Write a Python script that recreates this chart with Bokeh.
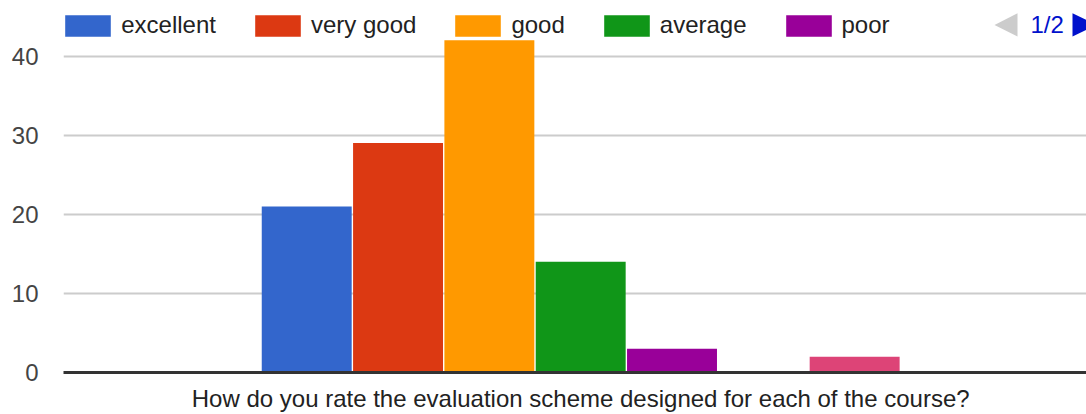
from bokeh.plotting import figure
from bokeh.models import (Range1d, FixedTicker, Legend, LegendItem, Label,
                          PolyAnnotation)
from bokeh.embed import file_html
from bokeh.resources import INLINE

# ---- data ----
category = "How do you rate the evaluation scheme designed for each of the course?"
series_names = ["excellent", "very good", "good", "average", "poor", "series 6", "series 7"]
series_values = [21, 29, 42, 14, 3, 0, 2]
series_colors = ["#3366cc", "#dc3912", "#ff9900", "#109618", "#990099", "#0099c6", "#dd4477"]
legend_page_1 = ["excellent", "very good", "good", "average", "poor"]
y_ticks = [0, 10, 20, 30, 40]
pager_text = "1/2"

FONT = "Liberation Sans"
GROUP_WIDTH = 0.618

n = len(series_names)
slot = GROUP_WIDTH / n

p = figure(width=1086, height=414, output_backend="svg", toolbar_location=None,
           x_range=Range1d(-0.5, 0.489), y_range=Range1d(0, 47.03),
           min_border_left=63, min_border_right=0, min_border_top=0,
           min_border_bottom=42)
p.outline_line_color = None
p.background_fill_color = "white"
p.border_fill_color = "white"

renderers = {}
for i, (name, val, col) in enumerate(zip(series_names, series_values, series_colors)):
    x = (i - (n - 1) / 2) * slot
    r = p.vbar(x=[x], top=[val], width=slot * 0.985, bottom=0,
               fill_color=col, line_color=None)
    renderers[name] = r

# axes
xa = p.xaxis[0]
xa.ticker = FixedTicker(ticks=[0])
xa.major_label_overrides = {0: category}
xa.axis_line_color = "#333333"
xa.axis_line_width = 3
xa.major_tick_line_color = None
xa.minor_tick_line_color = None
xa.major_tick_out = 0
xa.minor_tick_out = 0
xa.major_label_standoff = 12
xa.major_label_text_font = FONT
xa.major_label_text_font_size = "24px"
xa.major_label_text_color = "#222222"

ya = p.yaxis[0]
ya.ticker = FixedTicker(ticks=y_ticks)
ya.axis_line_color = None
ya.major_tick_line_color = None
ya.minor_tick_line_color = None
ya.major_tick_out = 0
ya.major_label_standoff = 25
ya.major_label_text_font = FONT
ya.major_label_text_font_size = "24px"
ya.major_label_text_color = "#444444"

p.xgrid.visible = False
p.ygrid.ticker = FixedTicker(ticks=y_ticks[1:])
p.ygrid.grid_line_color = "#cccccc"
p.ygrid.grid_line_width = 2

# legend (page 1 of 2)
legend = Legend(items=[LegendItem(label=nm, renderers=[renderers[nm]]) for nm in legend_page_1],
                orientation="horizontal", location=(-3.75, 333),
                glyph_width=57, glyph_height=27, label_standoff=5, spacing=33,
                padding=0, margin=0, border_line_color=None,
                background_fill_alpha=0,
                label_text_font=FONT, label_text_font_size="24px",
                label_text_color="#222222")
p.add_layout(legend, "center")

# pager
p.add_layout(Label(x=967, y=348, x_units="screen", y_units="screen", text=pager_text,
                   text_font=FONT, text_font_size="24px", text_color="#0011cc",
                   text_baseline="middle", text_align="left"))
p.add_layout(PolyAnnotation(xs=[931, 954, 954], ys=[347.5, 359.3, 336],
                            xs_units="screen", ys_units="screen",
                            fill_color="#cccccc", fill_alpha=1, line_color=None))
p.add_layout(PolyAnnotation(xs=[1009, 1009, 1033], ys=[359.3, 336, 347.5],
                            xs_units="screen", ys_units="screen",
                            fill_color="#0011cc", fill_alpha=1, line_color=None))

open("out.html", "w").write(file_html(p, INLINE))
